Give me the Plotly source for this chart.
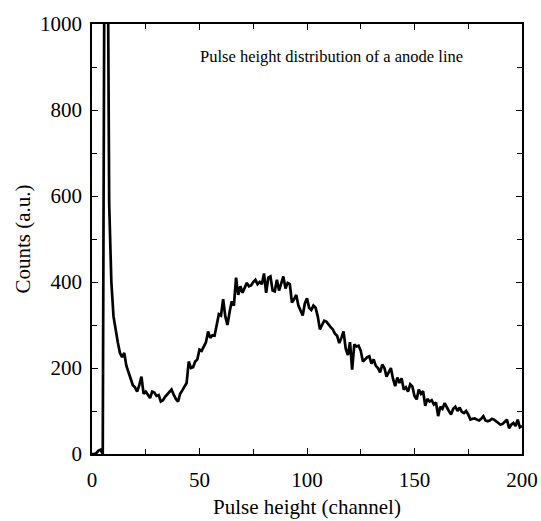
import plotly.graph_objects as go

channels = list(range(0, 201))
counts = [
    0, 0, 2, 8, 10, 0, 1500, 1500, 580, 400,
    320, 285, 260, 235, 225, 235, 205, 190, 175, 160,
    155, 145, 160, 180, 140, 145, 138, 130, 145, 143,
    135, 137, 122, 125, 133, 138, 143, 150, 138, 128,
    122, 140, 148, 155, 165, 215, 200, 202, 215, 220,
    243, 240, 250, 260, 285, 270, 276, 275, 300, 325,
    322, 360, 320, 300, 330, 355, 345, 410, 370, 390,
    375, 385, 398, 390, 392, 400, 405, 395, 400, 395,
    420, 375, 410, 413, 380, 378, 405, 380, 400, 413,
    385, 398, 395, 352, 360, 370, 345, 335, 322, 350,
    362, 340, 335, 345, 340, 320, 290, 300, 310, 308,
    300, 295, 290, 280, 275, 258, 270, 285, 245, 230,
    260, 196, 255, 250, 252, 240, 215, 220, 225, 227,
    210, 220, 205, 200, 190, 208, 200, 180, 190, 200,
    175, 158, 178, 165, 176, 150, 155, 145, 162, 157,
    135, 127, 150, 140, 146, 112, 128, 122, 125, 115,
    120, 88, 110, 105, 118, 108, 100, 92, 105, 110,
    100, 108, 98, 95, 100, 92, 80, 82, 83, 80,
    78, 82, 88, 78, 76, 78, 82, 80, 75, 72,
    68, 70, 75, 80, 60, 68, 72, 65, 80, 62,
    65,
]

x_ticks = [0, 50, 100, 150, 200]
y_ticks = [0, 200, 400, 600, 800, 1000]

font_family = "Liberation Serif, Times New Roman, Times, serif"

fig = go.Figure()
fig.add_trace(go.Scatter(
    x=channels, y=counts, mode="lines",
    line=dict(color="black", width=2.7),
    showlegend=False,
))

axis_common = dict(
    showgrid=False, zeroline=False, automargin=False,
    showline=True, linecolor="black", linewidth=1.5,
    mirror="ticks", ticks="inside", ticklen=6, tickwidth=1.2, tickcolor="black",
    tickfont=dict(family=font_family, size=21, color="black"),
)

fig.update_xaxes(
    range=[0, 200], tickvals=x_ticks, ticklabelstandoff=6,
    minor=dict(dtick=25, ticks="inside", ticklen=5, tickwidth=1.2, tickcolor="black"),
    title=dict(text="Pulse height (channel)", font=dict(family=font_family, size=21, color="black"), standoff=8),
    **axis_common,
)
fig.update_yaxes(
    range=[0, 1000], tickvals=y_ticks, ticklabelstandoff=4,
    minor=dict(dtick=100, ticks="inside", ticklen=5, tickwidth=1.2, tickcolor="black"),
    title=dict(text="Counts (a.u.)", font=dict(family=font_family, size=21, color="black"), standoff=4),
    **axis_common,
)

fig.add_annotation(
    x=49.5, y=925, xref="x", yref="y", xanchor="left", yanchor="middle",
    text="Pulse height distribution of a anode line", showarrow=False,
    font=dict(family=font_family, size=16.5, color="black"),
)

fig.update_layout(
    width=541, height=521,
    margin=dict(l=92, r=19, t=24, b=67),
    plot_bgcolor="white", paper_bgcolor="white",
)

fig.write_html("out.html")
